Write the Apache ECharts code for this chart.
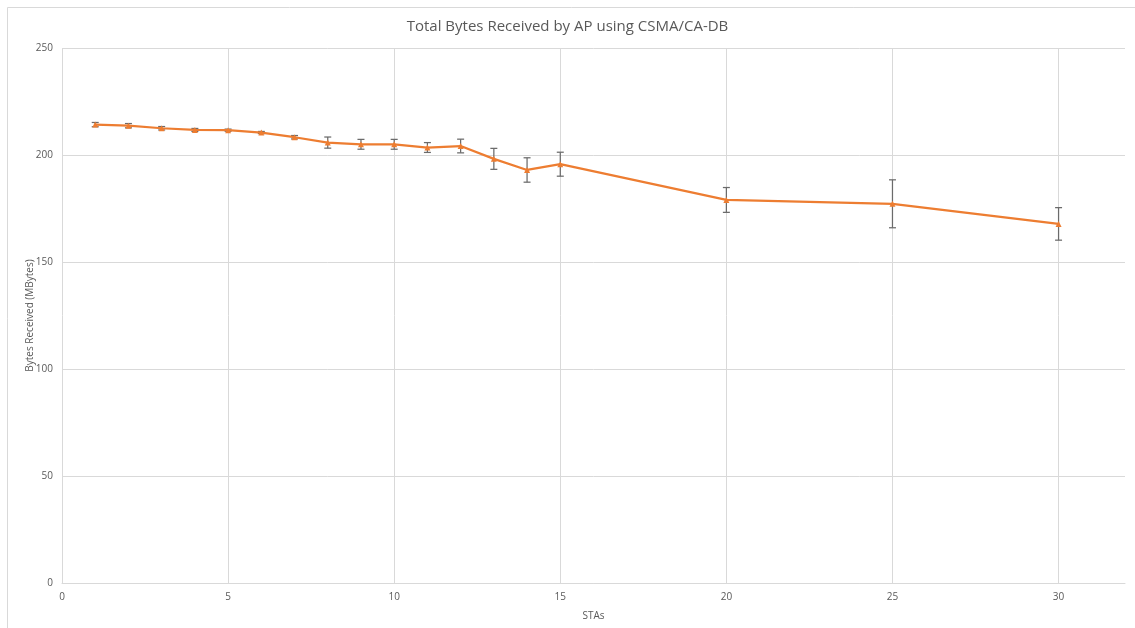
<!DOCTYPE html>
<html>
<head>
<meta charset="utf-8">
<script src="https://cdn.jsdelivr.net/npm/echarts@6/dist/echarts.min.js"></script>
<style>
  html, body { margin: 0; padding: 0; background: #fff; }
  #chart { width: 1135px; height: 628px; }
</style>
</head>
<body>
<div id="chart"></div>
<script>
// Number of stations (x) and mean bytes received at the AP (MBytes)
const stations = [1, 2, 3, 4, 5, 6, 7, 8, 9, 10, 11, 12, 13, 14, 15, 20, 25, 30];
const bytesReceived = [214.2, 213.7, 212.5, 211.7, 211.6, 210.5, 208.3, 205.8, 205.0, 205.0, 203.5, 204.2, 198.2, 193.0, 195.7, 179.0, 177.2, 167.8];
// Half-width of each error bar (MBytes)
const errorHalf = [1.0, 1.0, 0.8, 0.7, 0.5, 0.5, 0.8, 2.6, 2.3, 2.3, 2.3, 3.2, 4.9, 5.7, 5.6, 5.8, 11.2, 7.6];

const titleText = 'Total Bytes Received by AP using CSMA/CA-DB';
const xName = 'STAs';
const yName = 'Bytes Received (MBytes)';

const lineData = stations.map((s, i) => [s, bytesReceived[i]]);
const errData = stations.map((s, i) => [s, bytesReceived[i] - errorHalf[i], bytesReceived[i] + errorHalf[i]]);

const chart = echarts.init(document.getElementById('chart'), null, { renderer: 'canvas' });
const font = 'Open Sans, Liberation Sans, sans-serif';
const textColor = '#595959';
const gridColor = '#d9d9d9';

chart.setOption({
  animation: false,
  backgroundColor: '#fff',
  graphic: [{
    type: 'rect',
    shape: { x: 7.5, y: 7.5, width: 1140, height: 640 },
    style: { fill: 'none', stroke: '#d9d9d9', lineWidth: 1 },
    silent: true
  }],
  title: {
    text: titleText,
    left: 'center',
    top: 14,
    textStyle: { fontFamily: font, fontSize: 15, fontWeight: 'normal', color: textColor }
  },
  grid: { left: 62, right: 10, top: 48, bottom: 45 },
  xAxis: {
    type: 'value',
    min: 0,
    max: 32,
    interval: 5,
    name: xName,
    nameLocation: 'middle',
    nameGap: 28,
    nameTextStyle: { fontFamily: font, fontSize: 10, color: textColor },
    axisLine: { show: true, lineStyle: { color: gridColor } },
    axisTick: { show: false },
    axisLabel: { fontFamily: font, fontSize: 10, color: textColor, margin: 9, showMaxLabel: false },
    splitLine: { show: true, showMaxLine: false, lineStyle: { color: gridColor, width: 1 } }
  },
  yAxis: {
    type: 'value',
    min: 0,
    max: 250,
    interval: 50,
    name: yName,
    nameLocation: 'middle',
    nameGap: 27,
    nameMoveOverlap: false,
    nameTextStyle: { fontFamily: font, fontSize: 10, color: textColor },
    axisLine: { show: false },
    axisTick: { show: false },
    axisLabel: { fontFamily: font, fontSize: 10, color: textColor, margin: 9 },
    splitLine: { show: true, lineStyle: { color: gridColor, width: 1 } }
  },
  series: [
    {
      type: 'line',
      data: lineData,
      symbol: 'triangle',
      symbolSize: 6,
      lineStyle: { color: '#ED7D31', width: 2.25 },
      itemStyle: { color: '#ED7D31' },
      z: 5
    },
    {
      type: 'custom',
      data: errData,
      z: 3,
      renderItem: function (params, api) {
        const x = api.value(0);
        const lo = api.coord([x, api.value(1)]);
        const hi = api.coord([x, api.value(2)]);
        const cap = 3.5;
        const style = { stroke: '#6b6b6b', lineWidth: 1.25 };
        return {
          type: 'group',
          children: [
            { type: 'line', shape: { x1: hi[0], y1: hi[1], x2: lo[0], y2: lo[1] }, style: style },
            { type: 'line', shape: { x1: hi[0] - cap, y1: hi[1], x2: hi[0] + cap, y2: hi[1] }, style: style },
            { type: 'line', shape: { x1: lo[0] - cap, y1: lo[1], x2: lo[0] + cap, y2: lo[1] }, style: style }
          ]
        };
      }
    }
  ]
});
</script>
</body>
</html>
